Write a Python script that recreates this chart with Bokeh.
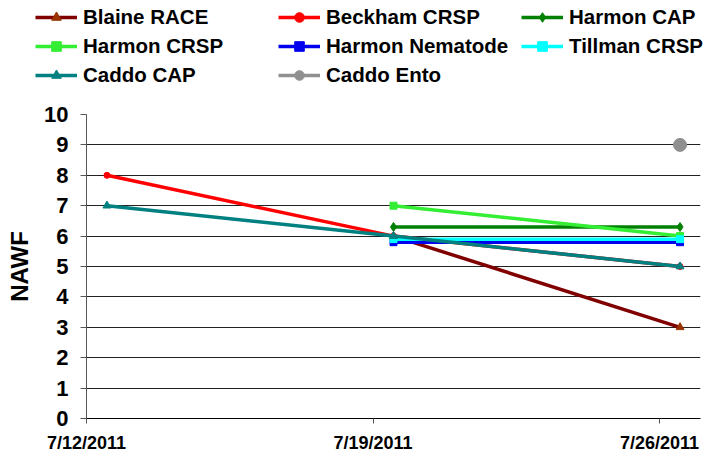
import math
import pandas as pd
from bokeh.plotting import figure
from bokeh.layouts import column
from bokeh.models import Legend, LegendItem, FixedTicker, Range1d
from bokeh.embed import file_html
from bokeh.resources import INLINE

nan = float("nan")

# ---- data ----
dates = ["7/12/2011", "7/19/2011", "7/26/2011"]
series_names = ["Blaine RACE", "Beckham CRSP", "Harmon CAP", "Harmon CRSP",
                "Harmon Nematode", "Tillman CRSP", "Caddo CAP", "Caddo Ento"]
blaine_race = [nan, 6.0, 3.0]
beckham_crsp = [8.0, 6.0, 5.0]
harmon_cap = [nan, 6.3, 6.3]
harmon_crsp = [nan, 7.0, 6.0]
harmon_nematode = [nan, 5.8, 5.8]
tillman_crsp = [nan, 5.9, 5.9]
caddo_cap = [7.0, 6.0, 5.0]
caddo_ento = [nan, nan, 9.0]
y_ticks = [0, 1, 2, 3, 4, 5, 6, 7, 8, 9, 10]

# ---- styles ----
styles = [
    dict(line="#800000", marker="triangle", mcolor="#993300", size=8),
    dict(line="#ff0000", marker="circle", mcolor="#ff0000", size=6),
    dict(line="#008000", marker="diamond", mcolor="#008000", size=9),
    dict(line="#33ee33", marker="square", mcolor="#33ee33", size=7),
    dict(line="#0000ee", marker="square", mcolor="#0000ee", size=7),
    dict(line="#00ffff", marker="square", mcolor="#00ffff", size=7),
    dict(line="#008080", marker="triangle", mcolor="#008080", size=8),
    dict(line="#909090", marker="circle", mcolor="#909090", size=13),
]
values = [blaine_race, beckham_crsp, harmon_cap, harmon_crsp,
          harmon_nematode, tillman_crsp, caddo_cap, caddo_ento]

d = pd.to_datetime(dates, format="%m/%d/%Y")
day0 = d[0]
tick_pos = [float((x - day0).days) for x in d]
x_pts = [t + 0.5 for t in tick_pos]  # centred in day slot

FONT = "Liberation Sans"

# ---------------- main chart ----------------
p = figure(width=720, height=369, output_backend="svg", toolbar_location=None,
           x_range=Range1d(tick_pos[0], tick_pos[-1] + 1), y_range=Range1d(0, 10),
           min_border_left=86, min_border_right=20, min_border_top=24,
           min_border_bottom=41)
p.outline_line_color = None
p.background_fill_color = "white"
p.border_fill_color = "white"

# ---------------- legend strip ----------------
lg = figure(width=720, height=90, output_backend="svg", toolbar_location=None,
            x_axis_location=None, y_axis_location=None,
            min_border=0, min_border_left=0, min_border_right=0,
            min_border_top=0, min_border_bottom=0)
lg.outline_line_color = None
lg.grid.grid_line_color = None
lg.background_fill_color = "white"
lg.border_fill_color = "white"

for fig in (p, lg):
    try:
        fig.frame_align = False
    except Exception:
        pass

items = []
for name, vals, st in zip(series_names, values, styles):
    p.line(x_pts, vals, line_color=st["line"], line_width=3.5)
    p.scatter(x_pts, vals, marker=st["marker"], size=st["size"],
              fill_color=st["mcolor"], line_color=st["mcolor"])
    l1 = lg.line(x_pts, vals, line_color=st["line"], line_width=3.5, visible=False)
    l2 = lg.scatter(x_pts, vals, marker=st["marker"], size=st["size"],
                    fill_color=st["mcolor"], line_color=st["mcolor"], visible=False)
    items.append(LegendItem(label=name, renderers=[l1, l2]))

# axes
p.xaxis.ticker = FixedTicker(ticks=tick_pos)
p.xaxis.major_label_overrides = {t: lab for t, lab in zip(tick_pos, dates)}
p.xaxis.major_label_text_font = FONT
p.xaxis.major_label_text_font_style = "bold"
p.xaxis.major_label_text_font_size = "18px"
p.xaxis.major_label_text_color = "black"
p.xaxis.major_label_standoff = 9
p.xaxis.major_tick_in = 0
p.xaxis.major_tick_out = 5
p.xaxis.minor_tick_line_color = None
p.xaxis.axis_line_color = "black"
p.xaxis.major_tick_line_color = "#555555"

p.yaxis.ticker = FixedTicker(ticks=y_ticks)
p.yaxis.major_label_text_font = FONT
p.yaxis.major_label_text_font_style = "bold"
p.yaxis.major_label_text_font_size = "22px"
p.yaxis.major_label_text_color = "black"
p.yaxis.major_label_standoff = 12
p.yaxis.major_tick_in = 0
p.yaxis.major_tick_out = 6
p.yaxis.minor_tick_line_color = None
p.yaxis.axis_line_color = "#555555"
p.yaxis.major_tick_line_color = "#555555"
p.yaxis.axis_label = "NAWF"
p.yaxis.axis_label_text_font = FONT
p.yaxis.axis_label_text_font_style = "bold"
p.yaxis.axis_label_text_font_size = "24px"
p.yaxis.axis_label_text_color = "black"
p.yaxis.axis_label_standoff = 8

p.xgrid.grid_line_color = None
p.ygrid.grid_line_color = "#222222"
p.ygrid.grid_line_width = 1

legend = Legend(items=items, location=(35, 3), orientation="horizontal", ncols=3,
                glyph_width=42, glyph_height=24, label_height=24, label_width=190,
                label_standoff=6, spacing=5, padding=0, margin=0,
                label_text_font=FONT, label_text_font_style="bold",
                label_text_font_size="20.5px", label_text_color="black",
                border_line_color=None, background_fill_alpha=0)
lg.add_layout(legend, "center")

layout = column(lg, p, spacing=0)
open("out.html", "w").write(file_html(layout, INLINE))
